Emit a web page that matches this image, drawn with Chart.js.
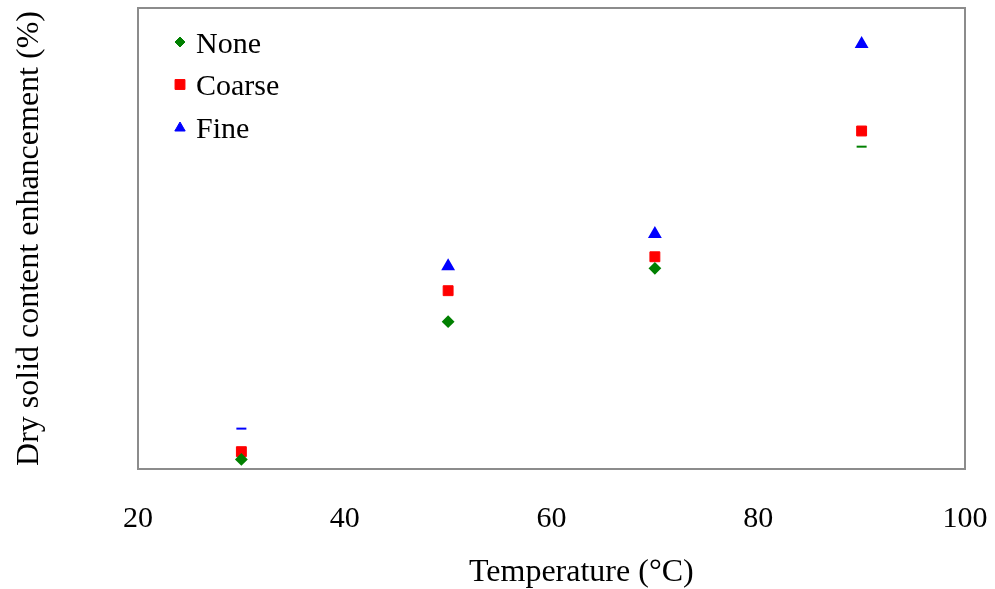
<!DOCTYPE html>
<html>
<head>
    <meta charset="UTF-8">
    <title>Dry solid content enhancement</title>
    <script src="https://cdn.jsdelivr.net/npm/chart.js"></script>
    <style>
        html, body { margin: 0; padding: 0; background: #fff; }
        #wrap { width: 995px; height: 589px; }
    </style>
</head>
<body>
<div id="wrap"><canvas id="chart"></canvas></div>

<script>
    // data (y has no ticks, scale 0-25 assumed)
    var temps = [30, 50, 70, 90];
    var noneVals = [0.52, 7.99, 10.88, 17.48];
    var coarseVals = [0.94, 9.67, 11.51, 18.33];
    var fineVals = [2.19, 11.0, 12.74, 23.05];
    var xTicks = [20, 40, 60, 80, 100];
    var xTitle = 'Temperature (°C)';

    var serif = "'Liberation Serif', 'Times New Roman', serif";

    function toPoints(vals) {
        var pts = [];
        for (var i = 0; i < temps.length; i++) {
            pts.push({ x: temps[i], y: vals[i] });
        }
        return pts;
    }

    // frame round the plot area, legend inside it, x title (sits a bit right of centre)
    var framePlugin = {
        id: 'frame',
        beforeDatasetsDraw: function (chart) {
            var a = chart.chartArea, ctx = chart.ctx;
            ctx.save();
            ctx.strokeStyle = '#8c8c8c';
            ctx.lineWidth = 2;
            ctx.strokeRect(a.left, a.top, a.right - a.left, a.bottom - a.top);
            ctx.restore();
        },
        afterDraw: function (chart) {
            var a = chart.chartArea, ctx = chart.ctx;
            var styles = ['rectRot', 'rect', 'triangle'];
            var sizes = [5, 7, 6];
            ctx.save();
            chart.data.datasets.forEach(function (ds, i) {
                var y = a.top + 34 + i * 42.5;
                var x = a.left + 42;
                ctx.fillStyle = ds.backgroundColor;
                ctx.strokeStyle = ds.backgroundColor;
                ctx.lineWidth = 1;
                Chart.helpers.drawPoint(ctx, { pointStyle: styles[i], radius: sizes[i], borderWidth: 1 }, x, y + (i == 2 ? 1 : 0));
                ctx.fillStyle = '#000';
                ctx.font = '30px ' + serif;
                ctx.textBaseline = 'middle';
                ctx.textAlign = 'left';
                ctx.fillText(ds.label, x + 16, y + 3);
            });

            ctx.font = '32px ' + serif;
            ctx.textAlign = 'left';
            ctx.textBaseline = 'alphabetic';
            ctx.fillText(xTitle, 469, 581);
            ctx.restore();
        }
    };

    var ctx = document.getElementById("chart").getContext("2d");
    var chart = new Chart(ctx, {
        type: 'scatter',
        data: {
            datasets: [
                {
                    label: 'None',
                    data: toPoints(noneVals),
                    backgroundColor: '#008000',
                    borderColor: '#008000',
                    borderWidth: 2,
                    pointStyle: ['rectRot', 'rectRot', 'rectRot', 'line'],
                    pointRadius: [5, 5, 5, 5]
                },
                {
                    label: 'Coarse',
                    data: toPoints(coarseVals),
                    backgroundColor: '#ff0000',
                    borderColor: '#ff0000',
                    borderWidth: 1,
                    pointStyle: 'rect',
                    pointRadius: 7
                },
                {
                    label: 'Fine',
                    data: toPoints(fineVals),
                    backgroundColor: '#0000ff',
                    borderColor: '#0000ff',
                    borderWidth: 2,
                    pointStyle: ['line', 'triangle', 'triangle', 'triangle'],
                    pointRadius: [5, 6, 6, 6]
                }
            ]
        },
        options: {
            responsive: true,
            maintainAspectRatio: false,
            animation: false,
            layout: { padding: { top: 8, right: 30, left: 0, bottom: 0 } },
            plugins: {
                legend: { display: false },
                tooltip: { enabled: false }
            },
            scales: {
                x: {
                    type: 'linear',
                    min: 20,
                    max: 100,
                    afterBuildTicks: function (scale) {
                        scale.ticks = xTicks.map(function (v) { return { value: v }; });
                    },
                    afterFit: function (scale) { scale.height = 120; },
                    grid: { display: false, drawTicks: true, tickLength: 29 },
                    border: { display: false },
                    ticks: {
                        color: '#000',
                        padding: 3,
                        maxRotation: 0,
                        font: { family: serif, size: 30 }
                    },
                    title: { display: false }
                },
                y: {
                    type: 'linear',
                    min: 0,
                    max: 25,
                    afterFit: function (scale) { scale.width = 138; },
                    grid: { display: false, drawTicks: false },
                    border: { display: false },
                    ticks: { display: false },
                    title: {
                        display: true,
                        text: 'Dry solid content enhancement (%)',
                        color: '#000',
                        padding: { top: 10, bottom: 0 },
                        font: { family: serif, size: 32 }
                    }
                }
            }
        },
        plugins: [framePlugin]
    });
</script>
</body>
</html>
